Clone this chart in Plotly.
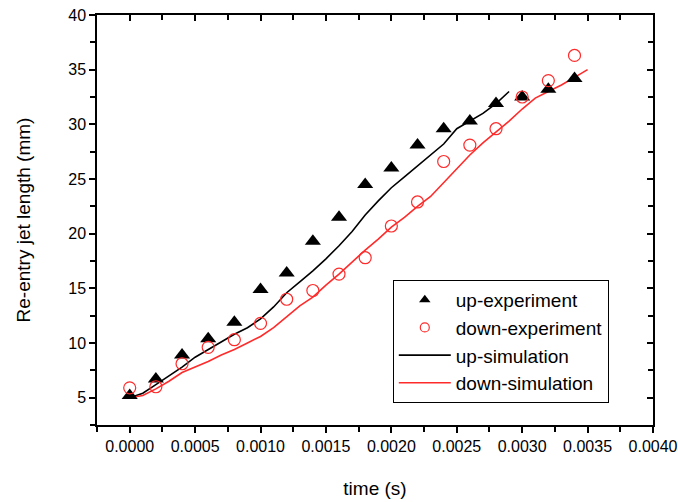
import plotly.graph_objects as go

# Experimental data (time in s, length in mm)
t_exp = [0.0000, 0.0002, 0.0004, 0.0006, 0.0008, 0.0010, 0.0012, 0.0014, 0.0016,
         0.0018, 0.0020, 0.0022, 0.0024, 0.0026, 0.0028, 0.0030, 0.0032, 0.0034]
up_exp = [5.2, 6.7, 8.9, 10.4, 11.9, 14.9, 16.4, 19.3, 21.5,
          24.5, 26.0, 28.1, 29.6, 30.3, 31.9, 32.5, 33.2, 34.2]
down_exp = [5.9, 6.0, 8.1, 9.6, 10.3, 11.8, 14.0, 14.8, 16.3,
            17.8, 20.7, 22.9, 26.6, 28.1, 29.6, 32.5, 34.0, 36.3]

# Simulation curves
t_up_sim = [0.0000, 0.0001, 0.0002, 0.0003, 0.0004, 0.0005, 0.0006, 0.0007, 0.0008, 0.0009,
            0.0010, 0.0011, 0.0012, 0.0013, 0.0014, 0.0015, 0.0016, 0.0017, 0.0018, 0.0019,
            0.0020, 0.0021, 0.0022, 0.0023, 0.0024, 0.0025, 0.0026, 0.0027, 0.0028, 0.0029]
up_sim = [5.0, 5.4, 6.2, 7.0, 7.8, 8.7, 9.4, 10.1, 10.8, 11.4,
          12.2, 13.3, 14.6, 15.6, 16.6, 17.7, 18.9, 20.2, 21.7, 23.0,
          24.2, 25.2, 26.2, 27.2, 28.2, 29.6, 30.3, 31.0, 31.9, 33.0]

t_down_sim = [0.0000, 0.0001, 0.0002, 0.0003, 0.0004, 0.0005, 0.0006, 0.0007, 0.0008, 0.0009,
              0.0010, 0.0011, 0.0012, 0.0013, 0.0014, 0.0015, 0.0016, 0.0017, 0.0018, 0.0019,
              0.0020, 0.0021, 0.0022, 0.0023, 0.0024, 0.0025, 0.0026, 0.0027, 0.0028, 0.0029,
              0.0030, 0.0031, 0.0032, 0.0033, 0.0034, 0.0035]
down_sim = [5.0, 5.2, 5.8, 6.5, 7.3, 7.8, 8.3, 8.9, 9.4, 10.0,
            10.6, 11.4, 12.4, 13.4, 14.2, 15.3, 16.3, 17.4, 18.5, 19.5,
            20.6, 21.5, 22.5, 23.4, 24.7, 25.9, 27.2, 28.3, 29.3, 30.3,
            31.4, 32.4, 33.0, 33.6, 34.3, 35.0]

x_ticks = [0.0000, 0.0005, 0.0010, 0.0015, 0.0020, 0.0025, 0.0030, 0.0035, 0.0040]
x_ticklabels = ["0.0000", "0.0005", "0.0010", "0.0015", "0.0020", "0.0025", "0.0030", "0.0035", "0.0040"]
y_ticks = [5, 10, 15, 20, 25, 30, 35, 40]

RED = "#ff2a2a"
FONT = "Liberation Sans, Arial, sans-serif"
xr = [-0.00025, 0.0040]
yr = [2.5, 40]

fig = go.Figure()
# plotted marks (legend entries are drawn by the legend-only traces below)
fig.add_trace(go.Scatter(x=t_up_sim, y=up_sim, mode="lines", showlegend=False,
                         line=dict(color="black", width=1.6)))
fig.add_trace(go.Scatter(x=t_down_sim, y=down_sim, mode="lines", showlegend=False,
                         line=dict(color=RED, width=1.6)))
fig.add_trace(go.Scatter(x=t_exp, y=up_exp, mode="markers", showlegend=False,
                         marker=dict(symbol="triangle-up", size=14, color="black")))
fig.add_trace(go.Scatter(x=t_exp, y=down_exp, mode="markers", showlegend=False,
                         marker=dict(symbol="circle-open", size=12, color=RED, line=dict(width=1.2))))

# legend entries with smaller symbols
fig.add_trace(go.Scatter(x=[None], y=[None], mode="markers", name="up-experiment",
                         marker=dict(symbol="triangle-up", size=10, color="black"), legendrank=1))
fig.add_trace(go.Scatter(x=[None], y=[None], mode="markers", name="down-experiment",
                         marker=dict(symbol="circle-open", size=9, color=RED, line=dict(width=1.2)),
                         legendrank=2))
fig.add_trace(go.Scatter(x=[None], y=[None], mode="lines", name="up-simulation",
                         line=dict(color="black", width=1.6), legendrank=3))
fig.add_trace(go.Scatter(x=[None], y=[None], mode="lines", name="down-simulation",
                         line=dict(color=RED, width=1.6), legendrank=4))

common = dict(showgrid=False, zeroline=False, showline=True, linecolor="black", linewidth=1.5,
              tickcolor="black", tickwidth=1.5, automargin=False)

fig.update_layout(
    width=678, height=502,
    margin=dict(l=97, r=25, t=15, b=77),
    paper_bgcolor="white", plot_bgcolor="white",
    font=dict(family=FONT, color="black", size=16),
    xaxis=dict(range=xr, tickvals=x_ticks, ticktext=x_ticklabels, ticks="outside", ticklen=6,
               minor=dict(ticks="outside", ticklen=5, dtick=0.00025, tick0=0, tickcolor="black", tickwidth=1.5),
               title=dict(text="time (s)", font=dict(size=19), standoff=28),
               tickfont=dict(size=16), **common),
    yaxis=dict(range=yr, tickvals=y_ticks, ticks="outside", ticklen=6,
               minor=dict(ticks="outside", ticklen=5, dtick=2.5, tick0=0, tickcolor="black", tickwidth=1.5),
               title=dict(text="Re-entry jet length (mm)", font=dict(size=19), standoff=33),
               tickfont=dict(size=16), **common),
    xaxis2=dict(range=xr, overlaying="x", side="top", tickvals=x_ticks, ticks="inside", ticklen=6,
                showticklabels=False,
                minor=dict(ticks="inside", ticklen=5, dtick=0.00025, tick0=0, tickcolor="black", tickwidth=1.5),
                **common),
    yaxis2=dict(range=yr, overlaying="y", side="right", tickvals=y_ticks, ticks="inside", ticklen=6,
                showticklabels=False,
                minor=dict(ticks="inside", ticklen=5, dtick=2.5, tick0=0, tickcolor="black", tickwidth=1.5),
                **common),
    legend=dict(x=0.532, y=0.354, xanchor="left", yanchor="top",
                bordercolor="black", borderwidth=1, bgcolor="white",
                font=dict(size=19, family=FONT), tracegroupgap=0,
                itemwidth=52),
    showlegend=True,
    hovermode=False,
)

# invisible trace to activate secondary axes
fig.add_trace(go.Scatter(x=[None], y=[None], xaxis="x2", yaxis="y2", showlegend=False,
                         hoverinfo="skip"))

fig.write_html("out.html", config={"displayModeBar": False, "staticPlot": False},
               post_script="document.body.style.margin='0';document.body.style.overflow='hidden';")
